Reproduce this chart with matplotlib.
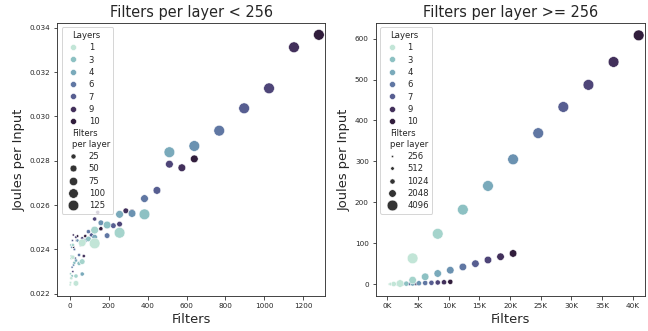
import matplotlib
matplotlib.use("Agg")
import matplotlib.pyplot as plt
import numpy as np
from matplotlib.colors import ListedColormap
from matplotlib.lines import Line2D
from matplotlib.offsetbox import VPacker
from matplotlib.ticker import FuncFormatter

layers = [1, 2, 3, 4, 5, 6, 7, 8, 9, 10]
layer_legend = [1, 3, 4, 6, 7, 9, 10]

# --- filters per layer < 256: joules per input, one list per width (layers 1..10)
small_fpl = [2, 4, 8, 16, 32, 64, 128]
jpi_2 = [0.02240, 0.02290, 0.02420, 0.02370, 0.02410, 0.02320, 0.02440, 0.02300, 0.02465, 0.02410]
jpi_4 = [0.02250, 0.02360, 0.02280, 0.02420, 0.02330, 0.02400, 0.02360, 0.02455, 0.02440, 0.02460]
jpi_8 = [0.02270, 0.02420, 0.02340, 0.02350, 0.02440, 0.02375, 0.02420, 0.02450, 0.02370, 0.02460]
jpi_16 = [0.02365, 0.02280, 0.02337, 0.02289, 0.02440, 0.02480, 0.02465, 0.02537, 0.02567, 0.02493]
jpi_32 = [0.02247, 0.02345, 0.02447, 0.02455, 0.02520, 0.02462, 0.02507, 0.02514, 0.02574, 0.02569]
jpi_64 = [0.02430, 0.02487, 0.02510, 0.02558, 0.02562, 0.02629, 0.02666, 0.02784, 0.02768, 0.02808]
jpi_128 = [0.02427, 0.02475, 0.02558, 0.02838, 0.02866, 0.02935, 0.03036, 0.03126, 0.03311, 0.03367]
small_jpi = [jpi_2, jpi_4, jpi_8, jpi_16, jpi_32, jpi_64, jpi_128]
small_size_legend = [25, 50, 75, 100, 125]

# --- filters per layer >= 256
large_fpl = [256, 512, 1024, 2048, 4096]
jpi_256 = [0.03, 0.05, 0.08, 0.11, 0.13, 0.16, 0.19, 0.21, 0.24, 0.27]
jpi_512 = [0.08, 0.17, 0.26, 0.36, 0.47, 0.55, 0.66, 0.78, 0.85, 0.97]
jpi_1024 = [0.3, 0.8, 1.2, 1.6, 2.2, 2.8, 3.3, 4.0, 4.6, 5.6]
jpi_2048 = [1.5, 9.8, 18, 26, 34, 42, 50, 59, 67, 75]
jpi_4096 = [63, 123, 182, 240, 305, 369, 433, 487, 543, 608]
large_jpi = [jpi_256, jpi_512, jpi_1024, jpi_2048, jpi_4096]
large_size_legend = [256, 512, 1024, 2048, 4096]

SIZE_RANGE = (5, 115)
TEXT = "#262626"


def cubehelix_cmap(start=0.5, rot=-0.5, gamma=1.0, hue=0.8, light=0.85, dark=0.15):
    x = np.linspace(light, dark, 256)
    xg = x ** gamma
    a = hue * xg * (1 - xg) / 2
    phi = 2 * np.pi * (start / 3 + rot * x)
    r = xg + a * (-0.14861 * np.cos(phi) + 1.78277 * np.sin(phi))
    g = xg + a * (-0.29227 * np.cos(phi) - 0.90649 * np.sin(phi))
    b = xg + a * (1.97294 * np.cos(phi))
    return ListedColormap(np.clip(np.c_[r, g, b], 0, 1))


cmap = cubehelix_cmap()
hue_norm = plt.Normalize(min(layers), max(layers))


def size_of(v, fpl):
    lo, hi = min(fpl), max(fpl)
    return SIZE_RANGE[0] + (v - lo) / (hi - lo) * (SIZE_RANGE[1] - SIZE_RANGE[0])


def adjust_subtitles(leg):
    # subtitle rows have hidden handles: collapse their handle box so text sits left
    rows = leg.findobj(VPacker)[0].get_children()
    for hpack in rows:
        draw_area, _ = hpack.get_children()
        if not all(a.get_visible() for a in draw_area.get_children()):
            draw_area.set_width(0)


def draw_panel(ax, fpl, jpi, size_legend):
    for f, ys in zip(fpl, jpi):
        xs = np.array(layers) * f
        ax.scatter(xs, ys, s=size_of(f, fpl), c=[cmap(hue_norm(l)) for l in layers],
                   edgecolors="white", linewidths=0.5, zorder=3)

    handles = [Line2D([], [], visible=False)]
    labels = ["Layers"]
    for l in layer_legend:
        handles.append(Line2D([], [], ls="", marker="o", markersize=6,
                              color=cmap(hue_norm(l)), markeredgecolor="white", markeredgewidth=0.5))
        labels.append(str(l))
    handles.append(Line2D([], [], visible=False))
    labels.append("Filters\nper layer")
    for v in size_legend:
        handles.append(Line2D([], [], ls="", marker="o", markersize=np.sqrt(size_of(v, fpl)),
                              color="#333333", markeredgecolor="white", markeredgewidth=0.5))
        labels.append(str(v))
    leg = ax.legend(handles, labels, loc="upper left", fontsize=8.5, labelspacing=0.39,
                    borderpad=0.4, handletextpad=0.8, handlelength=2.0)
    for t in leg.get_texts():
        t.set_color(TEXT)
    adjust_subtitles(leg)

    ax.set_xlabel("Filters", fontsize=13, color=TEXT)
    ax.set_ylabel("Joules per Input", fontsize=13, color=TEXT)
    ax.tick_params(labelsize=7.2, colors=TEXT, length=3.5, width=0.8)
    for sp in ax.spines.values():
        sp.set_color("#333333")
        sp.set_linewidth(0.9)


fig = plt.figure(figsize=(9, 4.6), dpi=72)
ax1 = fig.add_axes([0.0884, 0.1057, 0.413, 0.824])
ax2 = fig.add_axes([0.580, 0.1057, 0.415, 0.824])

draw_panel(ax1, small_fpl, small_jpi, small_size_legend)
ax1.set_title("Filters per layer < 256", fontsize=14.5, color=TEXT)
ax1.set_xlim(-64, 1311)
ax1.set_ylim(0.0219, 0.0342)
ax1.set_xticks(np.arange(0, 1201, 200))
ax1.set_yticks(np.arange(0.022, 0.0341, 0.002))
ax1.yaxis.set_major_formatter(FuncFormatter(lambda v, p: f"{v:.3f}"))

draw_panel(ax2, large_fpl, large_jpi, large_size_legend)
ax2.set_title("Filters per layer >= 256", fontsize=14.5, color=TEXT)
ax2.set_xlim(-1900, 41950)
ax2.set_ylim(-29, 638)
ax2.set_xticks(np.arange(0, 40001, 5000))
ax2.set_yticks(np.arange(0, 601, 100))
ax2.xaxis.set_major_formatter(FuncFormatter(lambda v, p: f"{int(round(v / 1000))}K"))

fig.savefig("out.png", dpi=72)
